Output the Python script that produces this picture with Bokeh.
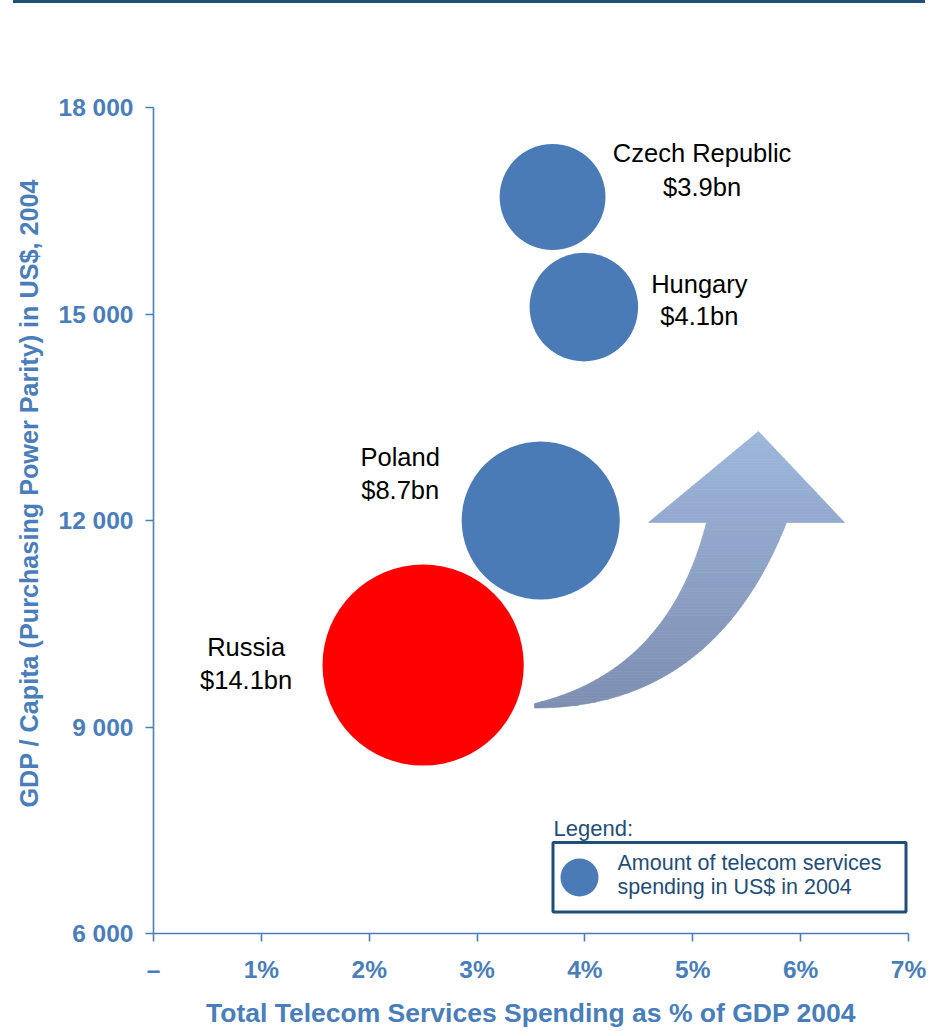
import numpy as np
from bokeh.plotting import figure
from bokeh.models import Range1d, FixedTicker, Div, Title
from bokeh.layouts import column
from bokeh.core.properties import value
from bokeh.embed import file_html
from bokeh.resources import INLINE

# ---------------- data ----------------
countries = ["Czech Republic", "Hungary", "Poland", "Russia"]
spend_pct_gdp = [3.70, 3.99, 3.59, 2.50]          # x: telecom spending, % of GDP
gdp_per_capita = [16700, 15100, 12000, 9900]      # y: GDP/capita PPP, US$
spend_bn = [3.9, 4.1, 8.7, 14.1]                  # bubble: spending, US$ bn
spend_labels = ["$3.9bn", "$4.1bn", "$8.7bn", "$14.1bn"]

x_ticks = [0, 1, 2, 3, 4, 5, 6, 7]
x_tick_labels = ["–", "1%", "2%", "3%", "4%", "5%", "6%", "7%"]
y_ticks = [6000, 9000, 12000, 15000, 18000]
y_tick_labels = ["6 000", "9 000", "12 000", "15 000", "18 000"]

# ---------------- styles / layout ----------------
W, H = 939, 1031
RULE_H = 3
FL, FR, FT, FB = 153, 908, 107, 933   # frame edges in page pixels
XR = (0, 7)
YR = (6000, 18000)
FONT = "Liberation Sans"
AXIS_BLUE = "#4a7ebb"
DARK_BLUE = "#1f4e79"
BUBBLE_BLUE = "#4a7bb7"
bubble_colors = [BUBBLE_BLUE, BUBBLE_BLUE, BUBBLE_BLUE, "#ff0000"]
BUBBLE_K = 26.8  # px radius per sqrt(US$bn)

# label offsets (px) from bubble centre: dx, baseline dy line1, baseline dy line2
label_offsets = {
    "Czech Republic": (149.5, -43.5, -9.5),
    "Hungary": (115.5, -23, 9),
    "Poland": (-140.5, -64, -31),
    "Russia": (-177, -18, 15),
}


def sx_per_unit():
    return (FR - FL) / (XR[1] - XR[0])


def sy_per_unit():
    return (FB - FT) / (YR[1] - YR[0])


def px2x(px):
    return XR[0] + (px - FL) / sx_per_unit()


def py2y(py):
    return YR[1] - (py - FT) / sy_per_unit()


p = figure(width=W, height=H - RULE_H, output_backend="svg", toolbar_location=None,
           x_range=Range1d(*XR), y_range=Range1d(*YR),
           min_border_left=FL, min_border_right=W - FR,
           min_border_top=FT - RULE_H, min_border_bottom=H - FB)
p.outline_line_color = None
p.grid.visible = False
p.background_fill_color = "white"
p.border_fill_color = "white"

# axes
for ax in (p.xaxis[0], p.yaxis[0]):
    ax.axis_line_color = AXIS_BLUE
    ax.axis_line_width = 1.6
    ax.major_tick_line_color = AXIS_BLUE
    ax.major_tick_line_width = 1.6
    ax.major_tick_out = 8
    ax.major_tick_in = 0
    ax.minor_tick_line_color = None
    ax.major_label_text_font = FONT
    ax.major_label_text_font_style = "bold"
    ax.major_label_text_font_size = "24.5px"
    ax.major_label_text_color = AXIS_BLUE
    ax.axis_label_text_font = FONT
    ax.axis_label_text_font_style = "bold"
    ax.axis_label_text_font_size = "26.5px"
    ax.axis_label_text_color = AXIS_BLUE

p.xaxis.ticker = FixedTicker(ticks=x_ticks)
p.xaxis.major_label_overrides = {t: l for t, l in zip(x_ticks, x_tick_labels)}
p.xaxis.axis_label = "Total Telecom Services Spending as % of GDP 2004"
p.xaxis.major_label_standoff = 14
p.xaxis.axis_label_standoff = 12

p.yaxis.ticker = FixedTicker(ticks=y_ticks)
p.yaxis.major_label_overrides = {t: l for t, l in zip(y_ticks, y_tick_labels)}
p.yaxis.major_label_standoff = 12

# y-axis title as a left-side title so it can sit slightly above centre
p.add_layout(Title(text="GDP / Capita (Purchasing Power Parity) in US$,  2004",
                   align="left", offset=126, standoff=25,
                   text_font=FONT, text_font_style="bold",
                   text_font_size="25.2px", text_color=AXIS_BLUE), "left")

# ---------------- gradient arrow (decoration) ----------------
def qbez(p0, p1, p2, n=60):
    t = np.linspace(0, 1, n)[:, None]
    a, b, c = np.array(p0), np.array(p1), np.array(p2)
    return (1 - t) ** 2 * a + 2 * (1 - t) * t * b + t ** 2 * c

upper = qbez((534, 703), (668, 671), (706, 522))
lower = qbez((534, 707.5), (713, 707.5), (786, 522))
head = np.array([(648, 522), (758, 431), (844, 522)])
poly_px = np.vstack([upper, head, lower[::-1]])
poly = [(px2x(a), py2y(b)) for a, b in poly_px]


def clip_half(poly, yc, above):
    out = []
    n = len(poly)
    for i in range(n):
        P, Q = poly[i], poly[(i + 1) % n]
        inP = P[1] >= yc if above else P[1] <= yc
        inQ = Q[1] >= yc if above else Q[1] <= yc
        if inP:
            out.append(P)
        if inP != inQ:
            t = (yc - P[1]) / (Q[1] - P[1])
            out.append((P[0] + t * (Q[0] - P[0]), yc))
    return out


def hex2rgb(h):
    h = h.lstrip("#")
    return np.array([int(h[i:i + 2], 16) for i in (0, 2, 4)], float)


c_top = hex2rgb("#9db7db")
c_bot = hex2rgb("#7d8eb1")
ys_all = [q[1] for q in poly]
y0, y1 = min(ys_all), max(ys_all)
NB = 90
edges = np.linspace(y0, y1, NB + 1)
bxs, bys, bcols = [], [], []
for i in range(NB):
    band = clip_half(clip_half(poly, edges[i], True), edges[i + 1], False)
    if len(band) < 3:
        continue
    f = ((edges[i] + edges[i + 1]) / 2 - y0) / (y1 - y0)
    c = c_bot + (c_top - c_bot) * f
    bxs.append([q[0] for q in band])
    bys.append([q[1] for q in band])
    bcols.append("#%02x%02x%02x" % tuple(int(round(v)) for v in c))
p.patches(bxs, bys, fill_color=bcols, line_color=bcols, line_width=0.7)

# ---------------- bubbles ----------------
sizes = [2 * BUBBLE_K * np.sqrt(v) for v in spend_bn]
p.scatter(spend_pct_gdp, gdp_per_capita, size=sizes, marker="circle",
          fill_color=bubble_colors, line_color=None)

# ---------------- bubble labels ----------------
lx, ly1, ly2 = [], [], []
for c, x, y in zip(countries, spend_pct_gdp, gdp_per_capita):
    dx, d1, d2 = label_offsets[c]
    lx.append(x + dx / sx_per_unit())
    ly1.append(y - d1 / sy_per_unit())
    ly2.append(y - d2 / sy_per_unit())
for yy, tt in ((ly1, countries), (ly2, spend_labels)):
    p.text(lx, yy, text=tt, text_font=value(FONT), text_font_size="25.5px",
           text_color="black", text_align="center", text_baseline="alphabetic")

# ---------------- legend (custom box) ----------------
p.text([px2x(553)], [py2y(828)], text=["Legend:"], text_font=value(FONT),
       text_font_size="22px", text_color=DARK_BLUE, text_align="left",
       text_baseline="alphabetic")
p.quad(left=[px2x(552.5)], right=[px2x(905.5)], top=[py2y(842)], bottom=[py2y(911.5)],
       fill_color="white", line_color=DARK_BLUE, line_width=3)
p.scatter([px2x(579)], [py2y(877)], size=38, marker="circle",
          fill_color=BUBBLE_BLUE, line_color=None)
p.text([px2x(617)] * 2, [py2y(862), py2y(886)],
       text=["Amount of telecom services", "spending in US$ in 2004"],
       text_font=value(FONT), text_font_size="21.5px", text_color=DARK_BLUE,
       text_align="left", text_baseline="alphabetic")

# ---------------- top rule ----------------
rule = Div(text="", width=W - 27, height=RULE_H, margin=(0, 0, 0, 13),
           styles={"background-color": DARK_BLUE})

layout = column(rule, p, spacing=0)
open("out.html", "w").write(file_html(layout, INLINE))
